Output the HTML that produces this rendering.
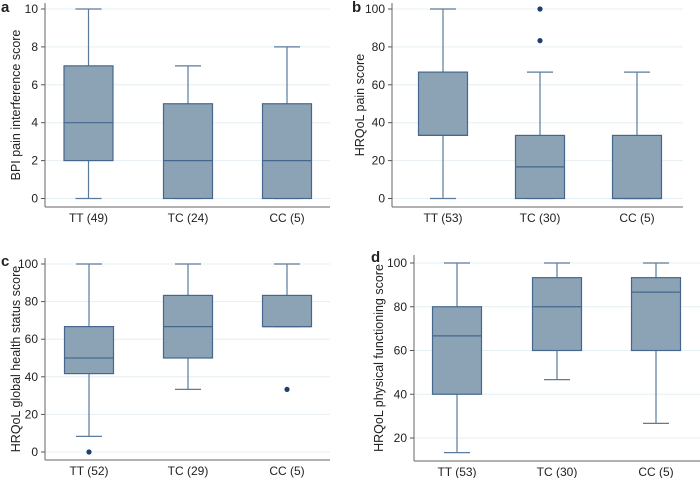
<!DOCTYPE html>
<html><head><meta charset="utf-8"><style>
body{margin:0;background:#fff;}
svg text{font-family:"Liberation Sans",sans-serif;fill:#222;}
</style></head><body>
<svg id="c" width="700" height="478"></svg>
<script>
const groupsA=["TT (49)","TC (24)","CC (5)"];
const statsA=[[0,2,4,7,10],[0,0,2,5,7],[0,0,2,5,8]];
const outA=[[],[],[]];
const groupsB=["TT (53)","TC (30)","CC (5)"];
const statsB=[[0,33.3,33.3,66.7,100],[0,0,16.7,33.3,66.7],[0,0,0,33.3,66.7]];
const outB=[[],[83.3,100],[]];
const groupsC=["TT (52)","TC (29)","CC (5)"];
const statsC=[[8.3,41.7,50,66.7,100],[33.3,50,66.7,83.3,100],[66.7,66.7,66.7,83.3,100]];
const outC=[[0],[],[33.3]];
const groupsD=["TT (53)","TC (30)","CC (5)"];
const statsD=[[13.3,40,66.7,80,100],[46.7,60,80,93.3,100],[26.7,60,86.7,93.3,100]];
const outD=[[],[],[]];
const ticksA=[0,2,4,6,8,10],ticksB=[0,20,40,60,80,100],ticksC=[0,20,40,60,80,100],ticksD=[20,40,60,80,100];

const svg=document.getElementById('c');
const NS="http://www.w3.org/2000/svg";
function mk(tag,at,parent,name){const e=document.createElementNS(NS,tag);for(const k in at)e.setAttribute(k,at[k]);


parent.appendChild(e);return e;}
function panel(p){
 const g=mk('g',{},svg,'panel-'+p.letter);
 const y=v=>p.y0+(v-p.v0)*(p.y1-p.y0)/(p.v1-p.v0);
 const x=i=>p.cx[i];
 p.ticks.forEach(t=>{
  mk('line',{x1:p.ax,x2:p.right,y1:y(t),y2:y(t),stroke:'#e6eff3','stroke-width':1},g,'gridline');
  mk('line',{x1:p.ax-4,x2:p.ax,y1:y(t),y2:y(t),stroke:'#555','stroke-width':1},g,'y-tick');
  const tx=mk('text',{x:p.ax-7,y:y(t)+4,'text-anchor':'end','font-size':12},g,'y-tick-label');tx.textContent=t;
 });
 mk('line',{x1:p.ax,x2:p.ax,y1:p.top,y2:p.bottom,stroke:'#666','stroke-width':1},g,'y-axis');
 mk('line',{x1:p.ax,x2:p.right,y1:p.bottom,y2:p.bottom,stroke:'#666','stroke-width':1},g,'x-axis');
 const w=49,cw=26;
 p.stats.forEach((s,i)=>{
  const c=x(i);
  mk('line',{x1:c,x2:c,y1:y(s[0]),y2:y(s[1]),stroke:'#5a7b9c','stroke-width':1.2},g,'whisker-low');
  mk('line',{x1:c,x2:c,y1:y(s[3]),y2:y(s[4]),stroke:'#5a7b9c','stroke-width':1.2},g,'whisker-high');
  mk('line',{x1:c-cw/2,x2:c+cw/2,y1:y(s[0]),y2:y(s[0]),stroke:'#5a7b9c','stroke-width':1.2},g,'whisker-cap');
  mk('line',{x1:c-cw/2,x2:c+cw/2,y1:y(s[4]),y2:y(s[4]),stroke:'#5a7b9c','stroke-width':1.2},g,'whisker-cap');
  mk('rect',{x:c-w/2,y:y(s[3]),width:w,height:Math.max(0.5,y(s[1])-y(s[3])),fill:'#8ca3b6',stroke:'#45678e','stroke-width':1.2},g,'box-'+i);
  mk('line',{x1:c-w/2,x2:c+w/2,y1:y(s[2]),y2:y(s[2]),stroke:'#45678e','stroke-width':1.2},g,'median');
  p.out[i].forEach(o=>mk('circle',{cx:c,cy:y(o),r:2.6,fill:'#1f3f6e'},g,'outlier'));
  const lt=mk('text',{x:c,y:p.bottom+15,'text-anchor':'middle','font-size':12},g,'x-tick-label');lt.textContent=p.groups[i];
 });
 const yl=mk('text',{x:0,y:0,'text-anchor':'middle','font-size':12.5,transform:`translate(${p.lx},${(p.top+p.bottom)/2}) rotate(-90)`},g,'y-axis-title');yl.textContent=p.title;
 const L=mk('text',{x:p.letx,y:p.lety,'font-size':15,'font-weight':'bold'},g,'panel-letter');L.textContent=p.letter;
}
panel({letter:'a',groups:groupsA,stats:statsA,out:outA,ticks:ticksA,v0:0,v1:10,y0:198.5,y1:9,ax:45,right:330,top:3,bottom:207,cx:[88.5,188,287],lx:20,title:'BPI pain interference score',letx:1,lety:12});
panel({letter:'b',groups:groupsB,stats:statsB,out:outB,ticks:ticksB,v0:0,v1:100,y0:198.5,y1:9,ax:392,right:683,top:3,bottom:207,cx:[443,540,637],lx:364,title:'HRQoL pain score',letx:352,lety:12});
panel({letter:'c',groups:groupsC,stats:statsC,out:outC,ticks:ticksC,v0:0,v1:100,y0:452,y1:264,ax:45,right:330,top:258,bottom:460,cx:[89,188,287],lx:20,title:'HRQoL global health status score',letx:1,lety:266});
panel({letter:'d',groups:groupsD,stats:statsD,out:outD,ticks:ticksD,v0:20,v1:100,y0:438,y1:263,ax:414,right:700,top:255,bottom:461,cx:[457,557,656],lx:383,title:'HRQoL physical functioning score',letx:371,lety:262});
</script>
</body></html>
